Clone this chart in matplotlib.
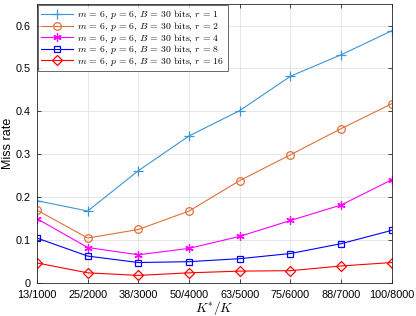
import matplotlib
matplotlib.use('Agg')
import matplotlib.pyplot as plt

plt.rcParams['font.family'] = ['Liberation Sans', 'DejaVu Sans']
plt.rcParams['mathtext.fontset'] = 'cm'

# data
labels = ['13/1000', '25/2000', '38/3000', '50/4000', '63/5000', '75/6000', '88/7000', '100/8000']
r_values = [1, 2, 4, 8, 16]
miss_r1 = [0.192, 0.168, 0.262, 0.343, 0.402, 0.482, 0.532, 0.588]
miss_r2 = [0.170, 0.105, 0.125, 0.168, 0.239, 0.299, 0.360, 0.418]
miss_r4 = [0.150, 0.083, 0.066, 0.081, 0.109, 0.146, 0.182, 0.241]
miss_r8 = [0.105, 0.063, 0.048, 0.050, 0.057, 0.069, 0.092, 0.123]
miss_r16 = [0.047, 0.024, 0.018, 0.024, 0.028, 0.029, 0.040, 0.048]

series = [miss_r1, miss_r2, miss_r4, miss_r8, miss_r16]
colors = ['#3a96d4', '#e0703a', '#ff00ff', '#0000ff', '#ff0000']
markers = ['+', 'o', (6, 2, 0), 's', 'D']
sizes = [6.5, 5.5, 6, 5, 5]

fig = plt.figure(figsize=(4.16, 3.16), dpi=100)
ax = fig.add_axes([0.089, 0.104, 0.853, 0.883])

x = list(range(len(labels)))
for ys, r, c, m, s in zip(series, r_values, colors, markers, sizes):
    ax.plot(x, ys, color=c, marker=m, markersize=s, markerfacecolor='none',
            markeredgecolor=c, markeredgewidth=0.9, linewidth=0.8,
            label=r'$m\, =\, 6,\, p\, =\, 6,\, B\, =\, 30\ \mathrm{bits},\, r\, =\, %d$' % r)

ax.set_xlim(0, len(labels) - 1)
ax.set_ylim(0, 0.65)
ax.set_xticks(x)
ax.set_xticklabels(labels)
ax.set_yticks([0, 0.1, 0.2, 0.3, 0.4, 0.5, 0.6])
ax.set_yticklabels(['0', '0.1', '0.2', '0.3', '0.4', '0.5', '0.6'])
ax.tick_params(direction='in', top=True, right=True, labelsize=7.8, length=3, width=0.5)
ax.tick_params(axis='x', pad=5)
ax.tick_params(axis='y', pad=4.5)
ax.grid(True, color='#e3e3e3', linewidth=0.6)
ax.set_axisbelow(True)
for sp in ax.spines.values():
    sp.set_linewidth(0.6)
    sp.set_color('#262626')

ax.set_ylabel('Miss rate', fontsize=9, labelpad=1)
ax.set_xlabel(r'$K^{*}/K$', fontsize=9.5, labelpad=-1)

leg = ax.legend(loc='upper left', fontsize=7.0, frameon=True, fancybox=False,
                edgecolor='#262626', borderaxespad=0.1, handlelength=3.2,
                labelspacing=-0.15, borderpad=0.35, handletextpad=0.5)
leg.get_frame().set_linewidth(0.6)

fig.savefig('out.png', dpi=100)
